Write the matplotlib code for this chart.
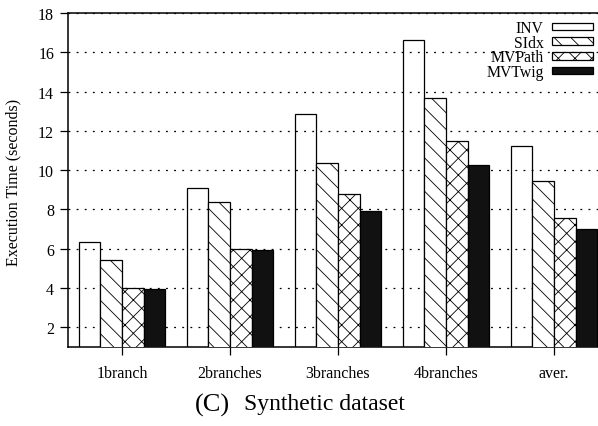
import numpy as np
import matplotlib
matplotlib.use("Agg")
import matplotlib.pyplot as plt

# dados
categorias = ["1branch", "2branches", "3branches", "4branches", "aver."]
series = ["INV", "SIdx", "MVPath", "MVTwig"]
inv = [6.36, 9.11, 12.84, 16.63, 11.25]
sidx = [5.41, 8.37, 10.35, 13.69, 9.45]
mvpath = [3.99, 5.99, 8.77, 11.47, 7.55]
mvtwig = [3.97, 5.94, 7.92, 10.26, 7.02]
yticks = [2, 4, 6, 8, 10, 12, 14, 16, 18]

plt.rcParams["font.family"] = ["Liberation Serif", "DejaVu Serif"]
plt.rcParams["hatch.linewidth"] = 0.6
plt.rcParams["hatch.color"] = "#555555"

fig = plt.figure(figsize=(5.98, 4.27), dpi=100)
W, H = 598, 427
# eixo passa da borda direita (imagem original cortada)
ax = fig.add_axes([68 / W, 1 - 348 / H, 540 / W, (348 - 14) / H])

x = np.arange(len(categorias))
largura = 0.2
estilos = [
    dict(fill="none", hatch=None),
    dict(fill="white", hatch="\\\\"),
    dict(fill="white", hatch="xx"),
    dict(fill="#111111", hatch=None),
]
valores = [inv, sidx, mvpath, mvtwig]
for i, (nome, vals, est) in enumerate(zip(series, valores, estilos)):
    ax.bar(x + (i - 1.5) * largura, vals, largura, bottom=0,
           color=est["fill"], hatch=est["hatch"],
           edgecolor="black", linewidth=0.9, label=nome, zorder=3)

ax.set_xlim(-0.5, 4.5)
ax.set_ylim(1, 18)
ax.set_yticks(yticks)
ax.set_xticks(x)
ax.set_xticklabels(categorias, fontsize=11.5)
ax.tick_params(axis="y", labelsize=11.5, direction="out", length=6, width=0.9, pad=4)
ax.tick_params(axis="x", direction="out", length=6, width=0.9, pad=7)
ax.yaxis.grid(True, linestyle=(0, (1.5, 5)), color="black", linewidth=0.9, zorder=0)
ax.set_axisbelow(True)
for s in ax.spines.values():
    s.set_linewidth(1.1)

fig.text(13 / W, 1 - 182 / H, "Execution Time (seconds)", rotation=90,
         ha="center", va="center", fontsize=11.5)

leg = ax.legend(loc="upper right", bbox_to_anchor=((593 - 68) / 540, 1 - (21 - 14) / 334),
                frameon=False, markerfirst=False, fontsize=11.3,
                handlelength=2.6, handleheight=0.38, labelspacing=-0.08,
                handletextpad=0.55, borderaxespad=0, borderpad=0)
for t in leg.get_texts():
    t.set_ha("right")

fig.text(230 / W, 1 - 405 / H, "(C)", ha="right", va="center", fontsize=19)
fig.text(244 / W, 1 - 405 / H, "Synthetic dataset", ha="left", va="center", fontsize=17)

fig.savefig("out.png", dpi=100)
